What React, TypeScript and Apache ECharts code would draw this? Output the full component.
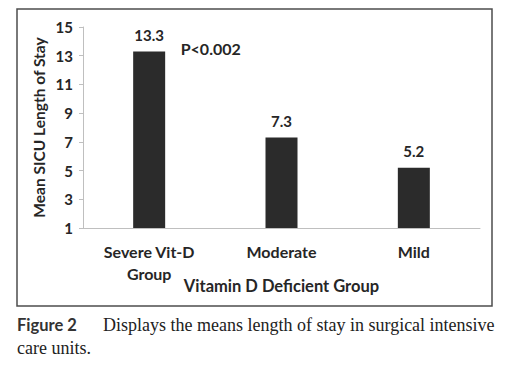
import React, { useEffect, useRef } from "react";
import * as echarts from "echarts";

const categories = ["Severe Vit-D\nGroup", "Moderate", "Mild"];
const meanStay = [13.3, 7.3, 5.2];
const yTicks = { min: 1, max: 15, interval: 2 };
const yAxisTitle = "Mean SICU Length of Stay";
const xAxisTitle = "Vitamin D Deficient Group";
const pNote = "P<0.002";
const captionLabel = "Figure 2";
const captionLine1 = "Displays the means length of stay in surgical intensive";
const captionLine2 = "care units.";

const FONT = "Lato, 'Open Sans', sans-serif";
const SERIF = "'Liberation Serif', 'Times New Roman', serif";

export default function App() {
  const ref = useRef<HTMLDivElement>(null);
  useEffect(() => {
    if (!ref.current) return;
    const chart = echarts.init(ref.current, undefined, { renderer: "svg" });
    chart.setOption({
      animation: false,
      backgroundColor: "#ffffff",
      grid: { left: 83, right: 34, top: 27, bottom: 143 },
      xAxis: {
        type: "category",
        data: categories,
        name: xAxisTitle,
        nameLocation: "middle",
        nameGap: 49,
        nameMoveOverlap: false,
        nameTextStyle: { fontFamily: FONT, fontWeight: "bold", fontSize: 16.5, color: "#262626" },
        axisLine: { lineStyle: { color: "#bfbfbf", width: 1 } },
        axisTick: { show: false },
        axisLabel: {
          fontFamily: FONT,
          fontWeight: "bold",
          fontSize: 16,
          color: "#262626",
          lineHeight: 22,
          margin: 12,
        },
      },
      yAxis: {
        type: "value",
        min: yTicks.min,
        max: yTicks.max,
        interval: yTicks.interval,
        name: yAxisTitle,
        nameLocation: "middle",
        nameRotate: 90,
        nameGap: 36,
        nameMoveOverlap: false,
        nameTextStyle: { fontFamily: FONT, fontWeight: "bold", fontSize: 15.5, color: "#262626" },
        axisLine: { show: true, lineStyle: { color: "#bfbfbf", width: 1 } },
        axisTick: { show: true, length: 4, lineStyle: { color: "#bfbfbf" } },
        splitLine: { show: false },
        axisLabel: {
          fontFamily: FONT,
          fontWeight: "bold",
          fontSize: 15,
          color: "#262626",
          margin: 10,
        },
      },
      series: [
        {
          type: "bar",
          data: meanStay,
          barWidth: 32,
          itemStyle: { color: "#2b2b2b" },
          label: {
            show: true,
            position: "top",
            distance: 9,
            fontFamily: FONT,
            fontWeight: "bold",
            fontSize: 15,
            color: "#262626",
            formatter: (p: any) => p.value.toFixed(1),
          },
          markPoint: {
            symbol: "rect",
            symbolSize: 1,
            itemStyle: { color: "rgba(0,0,0,0)" },
            data: [
              {
                coord: [0, meanStay[0]],
                symbolOffset: [26, -3],
                label: {
                  show: true,
                  formatter: pNote,
                  position: "right",
                  fontFamily: FONT,
                  fontWeight: "bold",
                  fontSize: 16,
                  color: "#262626",
                },
              },
            ],
          },
        },
      ],
      graphic: [
        {
          type: "rect",
          shape: { x: 17, y: 9, width: 475, height: 297 },
          style: { fill: "none", stroke: "#4d4d4d", lineWidth: 1.5 },
          silent: true,
        },
        {
          type: "text",
          x: 17,
          y: 325,
          style: {
            text: captionLabel,
            fontFamily: FONT,
            fontWeight: "bold",
            fontSize: 16.5,
            fill: "#333333",
            verticalAlign: "middle",
          },
        },
        {
          type: "text",
          x: 103,
          y: 325,
          style: {
            text: captionLine1,
            fontFamily: SERIF,
            fontSize: 18,
            fill: "#222222",
            verticalAlign: "middle",
          },
        },
        {
          type: "text",
          x: 17,
          y: 348,
          style: {
            text: captionLine2,
            fontFamily: SERIF,
            fontSize: 18,
            fill: "#222222",
            verticalAlign: "middle",
          },
        },
      ],
    });
    return () => chart.dispose();
  }, []);
  return (
    <div
      ref={ref}
      style={{ position: "fixed", left: 0, top: 0, width: 514, height: 371 }}
    />
  );
}
